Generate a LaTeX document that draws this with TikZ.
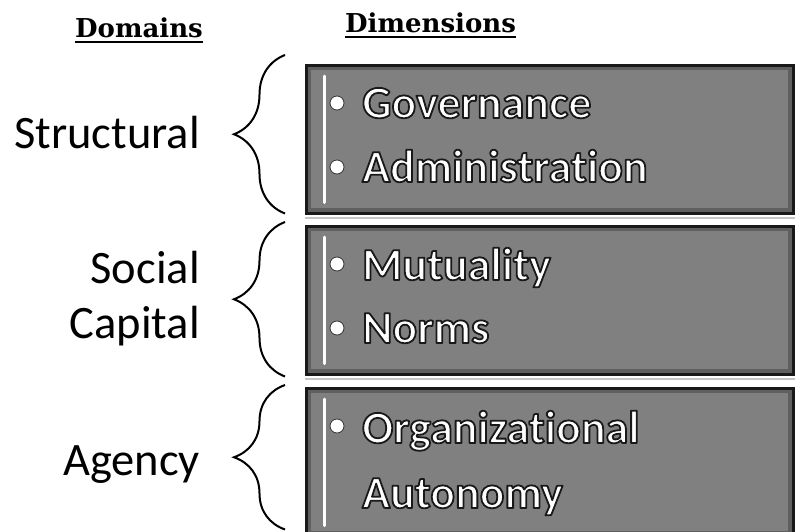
\documentclass[tikz,border=0pt]{standalone}
\usepackage{fontspec}
\setmainfont{Carlito}[Ligatures={NoCommon,NoRare}]
\newfontfamily\headfont{DejaVu Serif}
\usetikzlibrary{decorations.pathreplacing}

% white text with a dark outline (fill and stroke render mode)
\newcommand{\glowtext}[1]{{\color{white}\special{pdf:literal direct 0.1 G 1.8 w 1 j 2 Tr}#1\special{pdf:literal direct 0 Tr}}}

\begin{document}
\begin{tikzpicture}[x=1pt,y=-1pt,
  head label/.style={font=\headfont\bfseries\fontsize{26}{30}\selectfont,inner sep=0pt,anchor=base west},
  domain label/.style={font=\fontsize{46.5}{52}\selectfont,inner sep=0pt,anchor=base east},
  dim box/.style={draw=black!90,line width=2.5pt,fill=black!50,anchor=north west,inner sep=0pt,
    minimum width=487pt,minimum height=148pt,
    path picture={\draw[black!75,line width=10pt,opacity=.5] (path picture bounding box.south west) rectangle (path picture bounding box.north east);}},
  dim item/.style={font=\bfseries\fontsize{46}{52}\selectfont,inner sep=0pt,anchor=base west},
  bullet dot/.style={circle,fill=white,draw=black!80,line width=.8pt,inner sep=0pt,minimum size=14pt},
  dom brace/.style={decorate,decoration={brace,amplitude=51pt},line width=2pt},
  lite bar/.style={white,line width=3pt,line cap=round}]

  \useasboundingbox (0,0) rectangle (795,531);

  % headings
  \node[head label] (dom) at (75,37) {Domains};
  \node[head label] (dim) at (345,32) {Dimensions};
  \draw[line width=1.2pt] ([yshift=-5pt]dom.base west) -- ([yshift=-5pt]dom.base east);
  \draw[line width=1.2pt] ([yshift=-5pt]dim.base west) -- ([yshift=-5pt]dim.base east);

  % boxes
  \node[dim box] (box1) at (305,64) {};
  \node[dim box] (box2) at (305,225) {};
  \node[dim box] (box3) at (305,387) {};
  \foreach \b in {box1,box2,box3}{
    \draw[gray!45,line width=2pt] ([yshift=-3.5pt]\b.south west) -- ([yshift=-3.5pt]\b.south east);
    \draw[lite bar] ([shift={(19pt,-12pt)}]\b.north west) -- ([shift={(19pt,12pt)}]\b.south west);
  }

  % dimensions
  \node[bullet dot] (b1) at (337,103) {};
  \node[dim item] (gov) at (362,118) {\glowtext{Governance}};
  \node[bullet dot] (b2) at (337,167) {};
  \node[dim item] (adm) at (362,182) {\glowtext{Administration}};
  \node[bullet dot] (b3) at (337,264) {};
  \node[dim item] (mut) at (362,280) {\glowtext{Mutuality}};
  \node[bullet dot] (b4) at (337,328) {};
  \node[dim item] (nor) at (362,343) {\glowtext{Norms}};
  \node[bullet dot] (b5) at (337,426) {};
  \node[dim item] (org) at (362,443) {\glowtext{Organizational}};
  \node[dim item] (aut) at (362,508) {\glowtext{Autonomy}};

  % domains
  \node[domain label] (str) at (200,148) {Structural};
  \node[domain label] (soc) at (200,283) {Social};
  \node[domain label] (cap) at (200,338) {Capital};
  \node[domain label] (age) at (200,475) {Agency};

  \draw[dom brace] ([shift={(-20pt,1pt)}]box1.south west) -- ([shift={(-20pt,9pt)}]box1.north west);
  \draw[dom brace] ([shift={(-20pt,-1pt)}]box2.south west) -- ([shift={(-20pt,3pt)}]box2.north west);
  \draw[dom brace] ([shift={(-20pt,8pt)}]box3.south west) -- ([shift={(-20pt,2pt)}]box3.north west);

\end{tikzpicture}
\end{document}
